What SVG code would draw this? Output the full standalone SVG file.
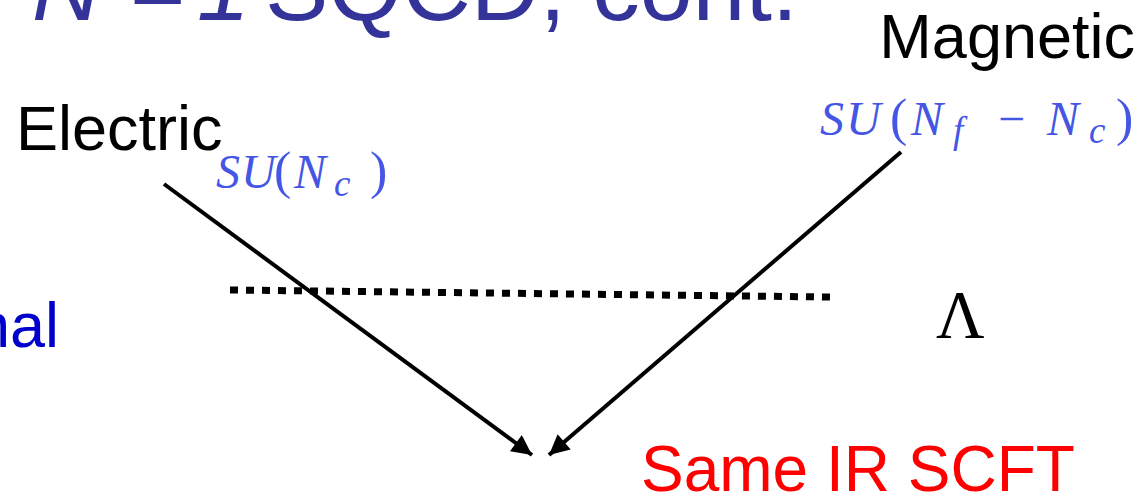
<svg xmlns="http://www.w3.org/2000/svg" width="1141" height="498" viewBox="0 0 1141 498">
<style>
.lab{font-family:"Liberation Sans",Arial,sans-serif;font-size:63px}
.math{font-family:"Liberation Serif","Times New Roman",serif;fill:#4656e4;font-size:48px}
.it{font-style:italic}
.sub{font-style:italic;font-size:37px}
.par{font-size:52px}
.conn{stroke:#000;stroke-width:4;fill:none}
</style>
<defs>
<marker id="ah" viewBox="0 0 10 10" refX="10" refY="5" markerWidth="5.5" markerHeight="5" markerUnits="strokeWidth" orient="auto">
<path d="M0,0 L10,5 L0,10 z" fill="#000"/>
</marker>
</defs>
<rect width="1141" height="498" fill="#fff"/>
<g id="title"><text class="lab" y="20" style="font-size:95px" fill="#333399"><tspan class="it" x="32">N</tspan><tspan x="130">=</tspan><tspan class="it" x="197">1</tspan><tspan x="265">SQCD, cont.</tspan></text></g>
<g id="electric"><text class="lab" x="16" y="150" fill="#000">Electric</text>
<text class="math" y="188"><tspan class="it" x="216">S</tspan><tspan class="it" x="241">U</tspan><tspan class="par" x="274">(</tspan><tspan class="it" x="294">N</tspan><tspan class="sub" x="334" y="196">c</tspan><tspan class="par" x="370" y="188">)</tspan></text></g>
<g id="magnetic"><text class="lab" x="1135" y="58" text-anchor="end" fill="#000">Magnetic</text>
<text class="math" y="135"><tspan class="it" x="820">S</tspan><tspan class="it" x="846">U</tspan><tspan class="par" x="890">(</tspan><tspan class="it" x="911">N</tspan><tspan class="sub" x="953" y="143">f</tspan><tspan x="998" y="135">−</tspan><tspan class="it" x="1047">N</tspan><tspan class="sub" x="1089" y="143">c</tspan><tspan class="par" x="1116" y="135">)</tspan></text></g>
<g id="conformal"><text class="lab" x="59" y="347" text-anchor="end" fill="#0000cc">nal</text></g>
<g id="scale"><text x="936" y="337" font-family="Liberation Serif,serif" font-size="67" fill="#000">Λ</text></g>
<g id="ir"><text class="lab" x="641" y="491" style="font-size:64px" fill="#ff0000">Same IR SCFT</text></g>
<g id="connectors">
<path d="M230,290 L830,297" stroke="#000" stroke-width="7" stroke-dasharray="8 8" fill="none"/>
<path class="conn" d="M164,184 L532,455" marker-end="url(#ah)"/>
<path class="conn" d="M901,152 L549,455" marker-end="url(#ah)"/>
</g>
</svg>
